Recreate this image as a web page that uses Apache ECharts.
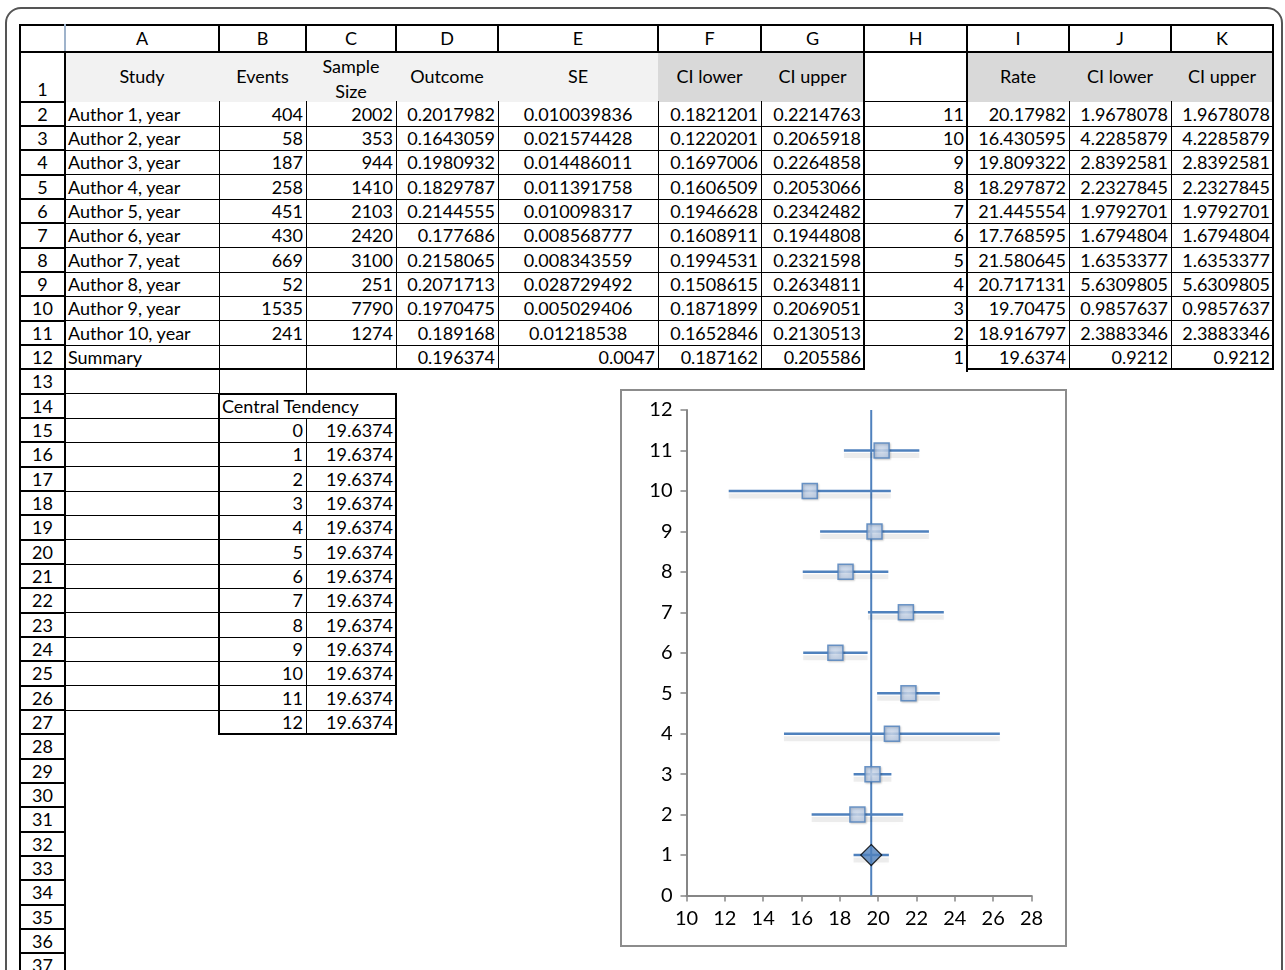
<!DOCTYPE html>
<html><head><meta charset="utf-8">
<script src="https://cdn.jsdelivr.net/npm/echarts@6/dist/echarts.min.js"></script>
<style>
html,body{margin:0;padding:0;background:#fff;width:1285px;height:970px;overflow:hidden;font-family:Lato,"Open Sans",sans-serif;}
#sheet{position:absolute;left:0;top:0;width:1285px;height:970px;}
.c{position:absolute;box-sizing:border-box;font-size:18px;color:#000;white-space:nowrap;overflow:visible;padding:0 3px;}
.f{position:absolute;}
.ln{position:absolute;background:#000;}
#frame{position:absolute;left:5px;top:7px;width:1278px;height:1000px;border:2px solid #555;border-radius:16px;box-sizing:border-box;}
#chartBox{position:absolute;left:620px;top:389px;width:447px;height:558px;border:2px solid #8c8c8c;box-sizing:border-box;background:#fff;}
#chart{position:absolute;left:620px;top:389px;width:447px;height:558px;}
</style></head><body>
<div id="frame"></div>
<div id="sheet"></div>
<div id="chartBox"></div>
<div id="chart"></div>
<script>
// ---------- data ----------
const colLetters = ['A','B','C','D','E','F','G','H','I','J','K'];
const headers = ['Study','Events','Sample Size','Outcome','SE','CI lower','CI upper','','Rate','CI lower','CI upper'];
const studies = ['Author 1, year','Author 2, year','Author 3, year','Author 4, year','Author 5, year','Author 6, year','Author 7, yeat','Author 8, year','Author 9, year','Author 10, year'];
const events = [404,58,187,258,451,430,669,52,1535,241];
const sampleSize = [2002,353,944,1410,2103,2420,3100,251,7790,1274];
const outcome = [0.2017982,0.1643059,0.1980932,0.1829787,0.2144555,0.177686,0.2158065,0.2071713,0.1970475,0.189168];
const se = [0.010039836,0.021574428,0.014486011,0.011391758,0.010098317,0.008568777,0.008343559,0.028729492,0.005029406,0.01218538];
const ciLower = [0.1821201,0.1220201,0.1697006,0.1606509,0.1946628,0.1608911,0.1994531,0.1508615,0.1871899,0.1652846];
const ciUpper = [0.2214763,0.2065918,0.2264858,0.2053066,0.2342482,0.1944808,0.2321598,0.2634811,0.2069051,0.2130513];
const summaryLabel = 'Summary';
const summaryOutcome = 0.196374, summarySE = 0.0047, summaryCiLower = 0.187162, summaryCiUpper = 0.205586;
const positions = [11,10,9,8,7,6,5,4,3,2];
const rate = [20.17982,16.430595,19.809322,18.297872,21.445554,17.768595,21.580645,20.717131,19.70475,18.916797];
const rateCiLower = [1.9678078,4.2285879,2.8392581,2.2327845,1.9792701,1.6794804,1.6353377,5.6309805,0.9857637,2.3883346];
const rateCiUpper = [1.9678078,4.2285879,2.8392581,2.2327845,1.9792701,1.6794804,1.6353377,5.6309805,0.9857637,2.3883346];
const summaryPosition = 1, summaryRate = 19.6374, summaryRateLower = 0.9212, summaryRateUpper = 0.9212;
const ctTitle = 'Central Tendency';
const ctIndex = [0,1,2,3,4,5,6,7,8,9,10,11,12];
const ctValue = [19.6374,19.6374,19.6374,19.6374,19.6374,19.6374,19.6374,19.6374,19.6374,19.6374,19.6374,19.6374,19.6374];
const xTicks = {min:10,max:28,interval:2};
const yTicks = {min:0,max:12,interval:1};

// ---------- sheet layout ----------
const X = [20,65,219,306,396,498,658,761,864,967,1069,1171,1273];
function rowTop(r){ if(r===0) return 25; if(r===1) return 52; return 101.8+(r-2)*24.33; }
const sheet = document.getElementById('sheet');
function fill(x,y,w,h,bg){const d=document.createElement('div');d.className='f';d.style.cssText=`left:${x}px;top:${y}px;width:${w}px;height:${h}px;background:${bg}`;sheet.appendChild(d);}
function text(c1,c2,r,txt,align,extra){
  const d=document.createElement('div');d.className='c';
  const x=X[c1], w=X[c2+1]-X[c1], y=rowTop(r), h=rowTop(r+1)-rowTop(r);
  d.style.cssText=`left:${x}px;top:${y}px;width:${w}px;height:${h}px;line-height:${h}px;text-align:${align};`+(extra||'');
  d.textContent=txt; sheet.appendChild(d); return d;
}
function hl(x1,x2,y,w,col){const d=document.createElement('div');d.className='ln';d.style.cssText=`left:${x1-w/2}px;top:${y-w/2}px;width:${x2-x1+w}px;height:${w}px;`+(col?`background:${col}`:'');sheet.appendChild(d);}
function vl(x,y1,y2,w,col){const d=document.createElement('div');d.className='ln';d.style.cssText=`left:${x-w/2}px;top:${y1-w/2}px;width:${w}px;height:${y2-y1+w}px;`+(col?`background:${col}`:'');sheet.appendChild(d);}

// fills
fill(X[1],rowTop(1),X[6]-X[1],rowTop(2)-rowTop(1),'#F2F2F2');
fill(X[6],rowTop(1),X[8]-X[6],rowTop(2)-rowTop(1),'#D9D9D9');
fill(X[9],rowTop(1),X[12]-X[9],rowTop(2)-rowTop(1),'#D9D9D9');

// column letters
colLetters.forEach((l,i)=>text(i+1,i+1,0,l,'center'));
// row numbers
for(let r=1;r<=37;r++){
  const d=text(0,0,r,String(r),'center');
  if(r===1){d.style.lineHeight='24px';d.style.paddingTop='25px';}
}
// headers
headers.forEach((h,i)=>{
  if(!h) return;
  const d=text(i+1,i+1,1,h,'center');
  if(h==='Sample Size'){d.style.whiteSpace='normal';d.style.lineHeight='25px';d.style.paddingTop='2px';d.innerHTML='Sample<br>Size';}
});
// data rows
for(let i=0;i<studies.length;i++){
  const r=i+2;
  text(1,1,r,studies[i],'left');
  text(2,2,r,String(events[i]),'right');
  text(3,3,r,String(sampleSize[i]),'right');
  text(4,4,r,String(outcome[i]),'right');
  text(5,5,r,String(se[i]),'center');
  text(6,6,r,String(ciLower[i]),'right');
  text(7,7,r,String(ciUpper[i]),'right');
  text(8,8,r,String(positions[i]),'right');
  text(9,9,r,String(rate[i]),'right');
  text(10,10,r,String(rateCiLower[i]),'right');
  text(11,11,r,String(rateCiUpper[i]),'right');
}
text(1,1,12,summaryLabel,'left');
text(4,4,12,String(summaryOutcome),'right');
text(5,5,12,String(summarySE),'right');
text(6,6,12,String(summaryCiLower),'right');
text(7,7,12,String(summaryCiUpper),'right');
text(8,8,12,String(summaryPosition),'right');
text(9,9,12,String(summaryRate),'right');
text(10,10,12,String(summaryRateLower),'right');
text(11,11,12,String(summaryRateUpper),'right');
// central tendency
text(2,3,14,ctTitle,'left');
ctIndex.forEach((v,i)=>{text(2,2,15+i,String(v),'right');text(3,3,15+i,String(ctValue[i]),'right');});

// lines
const B=2, T=1;
hl(X[0],X[12],25,B); hl(X[0],X[12],52,B);
for(let c=0;c<=12;c++){ if(c===1) vl(X[c],25,52,B,'#9FB3CB'); else vl(X[c],25,52,B); }
vl(X[0],25,980,B); vl(X[1],52,980,B);
for(let r=1;r<=38;r++) hl(X[0],X[1],rowTop(r),B);
for(let c=2;c<=7;c++) vl(X[c],rowTop(2),rowTop(13),T);
vl(X[8],25,rowTop(13),B);
for(let r=3;r<=12;r++) hl(X[1],X[9],rowTop(r),T);
hl(X[1],X[8],rowTop(13),B);
hl(X[8],X[9],rowTop(2),T);
vl(X[9],25,rowTop(13)+2,B);
vl(X[10],rowTop(2),rowTop(13),T); vl(X[11],rowTop(2),rowTop(13),T);
vl(X[12],25,rowTop(13),B);
for(let r=3;r<=12;r++) hl(X[9],X[12],rowTop(r),T);
hl(X[9],X[12],rowTop(13),B);
// row 13
hl(X[1],X[2],rowTop(14),T);
vl(X[2],rowTop(13),rowTop(14),T); vl(X[3],rowTop(13),rowTop(14),T);
// central tendency table
hl(X[2],X[4],rowTop(14),B); hl(X[2],X[4],rowTop(28),B);
vl(X[2],rowTop(14),rowTop(28),B); vl(X[4],rowTop(14),rowTop(28),B);
vl(X[3],rowTop(15),rowTop(28),T);
for(let r=15;r<=27;r++) hl(X[2],X[4],rowTop(r),T);
for(let r=15;r<=27;r++) hl(X[1],X[2],rowTop(r),T);

// ---------- chart ----------
const bars = rate.map((v,i)=>[v-rateCiLower[i], v+rateCiUpper[i], positions[i]]);
bars.push([summaryRate-summaryRateLower, summaryRate+summaryRateUpper, summaryPosition]);
const pts = rate.map((v,i)=>[v,positions[i]]);
const blue = '#4F81BD';
function renderBar(params, api){
  const p1 = api.coord([api.value(0), api.value(2)]);
  const p2 = api.coord([api.value(1), api.value(2)]);
  return {type:'group', children:[
    {type:'line', shape:{x1:p1[0],y1:p1[1]+5,x2:p2[0],y2:p2[1]+5}, style:{stroke:'rgba(0,0,0,0.07)',lineWidth:5,shadowBlur:6,shadowColor:'rgba(0,0,0,0.3)'}},
    {type:'line', shape:{x1:p1[0],y1:p1[1],x2:p2[0],y2:p2[1]}, style:{stroke:blue,lineWidth:2.5}}
  ]};
}
const axisCol = '#868686';
const labelStyle = {color:'#000',fontSize:20,fontFamily:'Lato'};
const chart = echarts.init(document.getElementById('chart'), null, {renderer:'canvas'});
chart.setOption({
  animation:false,
  grid:{left:66.5,right:35.5,top:21,bottom:51.5},
  xAxis:{type:'value',min:xTicks.min,max:xTicks.max,interval:xTicks.interval,
    axisLine:{show:true,onZero:false,lineStyle:{color:axisCol,width:2}},
    axisTick:{show:true,length:6,lineStyle:{color:axisCol,width:1.5}},
    splitLine:{show:false},
    axisLabel:Object.assign({margin:13},labelStyle)},
  yAxis:{type:'value',min:yTicks.min,max:yTicks.max,interval:yTicks.interval,
    axisLine:{show:true,onZero:false,lineStyle:{color:axisCol,width:2}},
    axisTick:{show:true,length:6,lineStyle:{color:axisCol,width:1.5}},
    splitLine:{show:false},
    axisLabel:Object.assign({margin:14},labelStyle)},
  series:[
    {type:'line',data:ctIndex.map((y,i)=>[ctValue[i],y]),symbol:'none',lineStyle:{color:blue,width:2},z:2,silent:true},
    {type:'custom',renderItem:renderBar,data:bars,encode:{x:[0,1],y:2},z:3,silent:true},
    {type:'scatter',data:pts,symbol:'rect',symbolSize:15,z:4,
      itemStyle:{color:{type:'radial',x:0.5,y:0.5,r:0.7,colorStops:[{offset:0,color:'#D6E1F1'},{offset:1,color:'#A8BFE0'}]},
        borderColor:blue,borderWidth:1.5,shadowBlur:2,shadowColor:'rgba(0,0,0,0.2)',shadowOffsetX:1,shadowOffsetY:1}},
    {type:'scatter',data:[[summaryRate,summaryPosition]],symbol:'diamond',symbolSize:21,z:5,
      itemStyle:{color:blue,borderColor:'#000',borderWidth:1.2}}
  ]
});
</script>
</body></html>
